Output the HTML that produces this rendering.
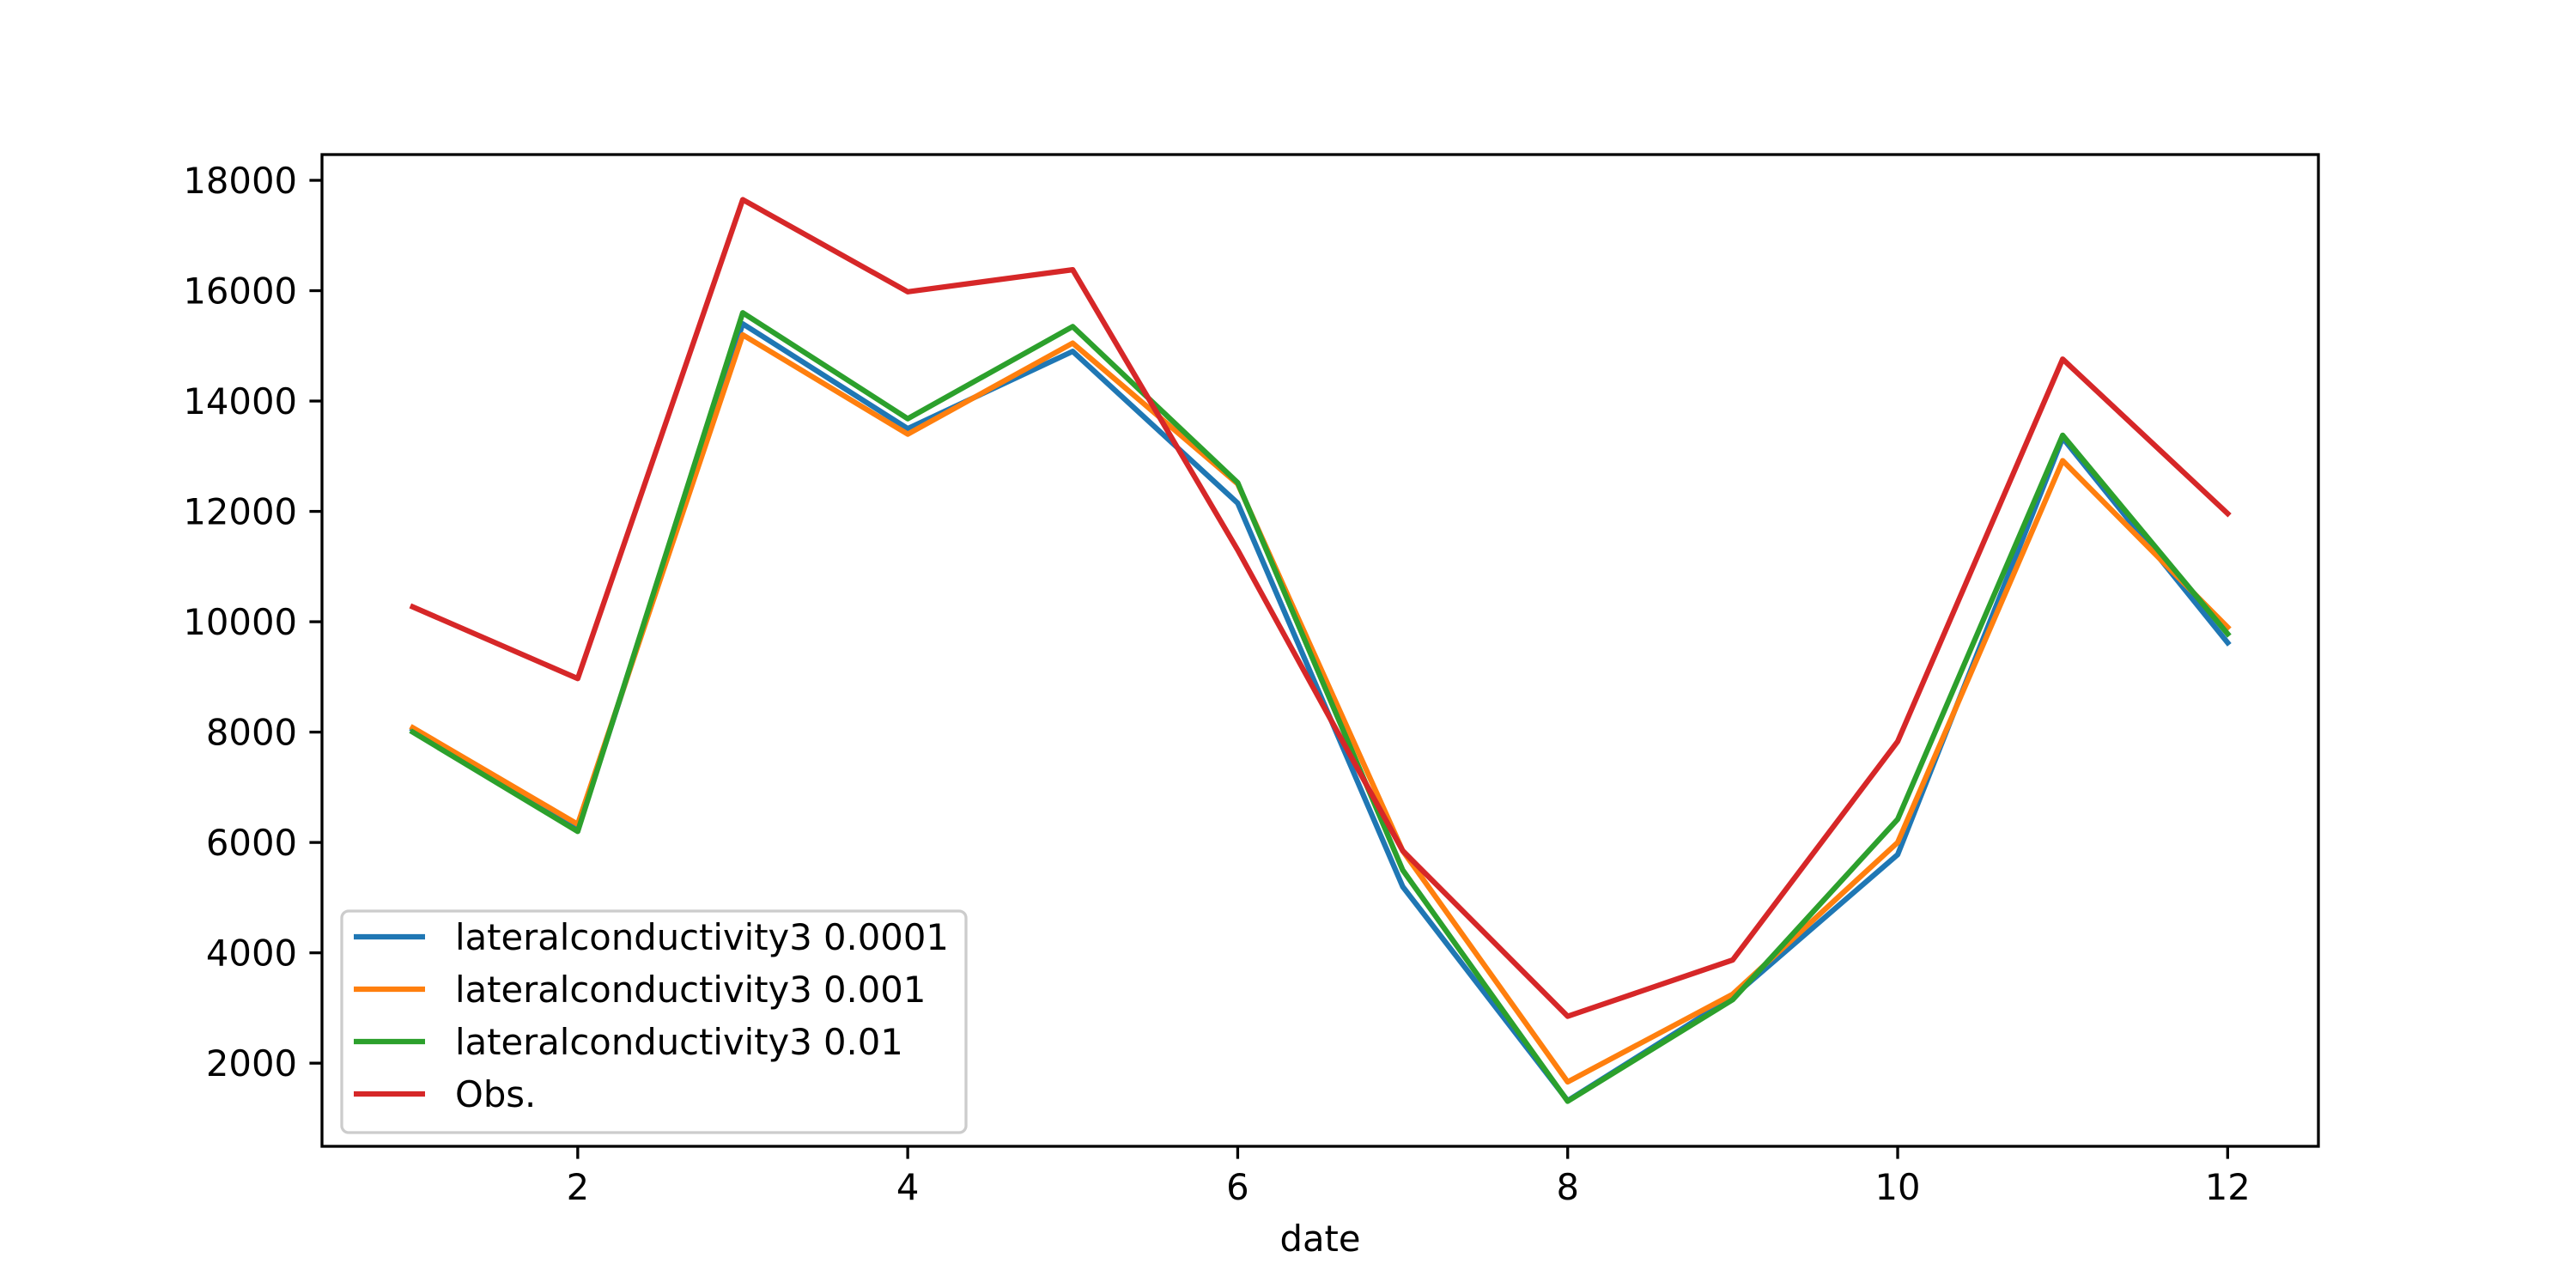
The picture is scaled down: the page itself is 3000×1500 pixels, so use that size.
<!DOCTYPE html>
<html><head><meta charset="utf-8"><style>body{margin:0;background:#fff}svg{display:block}text{font-family:"DejaVu Sans","Liberation Sans",sans-serif;fill:#000}</style></head>
<body>
<svg id="chart" width="3000" height="1500" xmlns="http://www.w3.org/2000/svg">
<rect width="3000" height="1500" fill="#fff"/>
<g id="plot"></g>
</svg>
<script>
const months = [1,2,3,4,5,6,7,8,9,10,11,12];
const seriesNames = ["lateralconductivity3 0.0001","lateralconductivity3 0.001","lateralconductivity3 0.01","Obs."];
const seriesColors = ["#1f77b4","#ff7f0e","#2ca02c","#d62728"];
const blueVals = [8050,6250,15400,13500,14900,12150,5200,1320,3200,5780,13330,9620];
const orangeVals = [8080,6330,15200,13400,15050,12500,5850,1660,3250,6000,12920,9900];
const greenVals = [8000,6200,15600,13680,15350,12520,5500,1310,3150,6420,13380,9780];
const obsVals = [10270,8970,17650,15980,16380,11300,5850,2850,3870,7830,14760,11960];
const xTicks = [2,4,6,8,10,12];
const yTicks = [2000,4000,6000,8000,10000,12000,14000,16000,18000];

const NS="http://www.w3.org/2000/svg";
const L=375,R=2700,T=180,B=1335;
const all=[...blueVals,...orangeVals,...greenVals,...obsVals];
const mn=Math.min(...all),mx=Math.max(...all),pad=(mx-mn)*0.05;
const y0=mn-pad,y1=mx+pad;
const x0=months[0]-(months[months.length-1]-months[0])*0.05,x1=months[months.length-1]+(months[months.length-1]-months[0])*0.05;
const sx=v=>L+(v-x0)/(x1-x0)*(R-L);
const sy=v=>B-(v-y0)/(y1-y0)*(B-T);
const g=document.getElementById('plot');
function mk(tag,attrs,parent){const e=document.createElementNS(NS,tag);for(const k in attrs)e.setAttribute(k,attrs[k]);(parent||g).appendChild(e);return e;}

const clip=mk('clipPath',{id:'c'});mk('rect',{x:L,y:T,width:R-L,height:B-T},clip);
const vals=[blueVals,orangeVals,greenVals,obsVals];
const lineNames=['line-blue-0001','line-orange-001','line-green-01','line-obs'];
vals.forEach((arr,i)=>{
  const p=mk('polyline',{points:arr.map((v,j)=>sx(months[j])+','+sy(v)).join(' '),fill:'none',stroke:seriesColors[i],'stroke-width':6.25,'stroke-linejoin':'round','stroke-linecap':'square','clip-path':'url(#c)'});
  
  
});

xTicks.forEach(t=>{
  const x=sx(t);
  const tk=mk('line',{x1:x,x2:x,y1:B,y2:B+14.6,stroke:'#000','stroke-width':3.3});
  
  
  const tx=mk('text',{x:x,y:B+62,'text-anchor':'middle','font-size':41.7});tx.textContent=t;
  
  
});
yTicks.forEach(t=>{
  const y=sy(t);
  const tk=mk('line',{x1:L-14.6,x2:L,y1:y,y2:y,stroke:'#000','stroke-width':3.3});
  
  
  const tx=mk('text',{x:L-29,y:y+15,'text-anchor':'end','font-size':41.7});tx.textContent=t;
  
  
});
const fr=mk('rect',{x:L,y:T,width:R-L,height:B-T,fill:'none',stroke:'#000','stroke-width':3.3});


const xl=mk('text',{x:(L+R)/2,y:1457,'text-anchor':'middle','font-size':41.7});xl.textContent='date';



const lg=mk('g',{});


mk('rect',{x:398,y:1061,width:727,height:258,rx:8,fill:'#fff','fill-opacity':0.8,stroke:'#ccc','stroke-width':3.3},lg);
seriesNames.forEach((n,i)=>{
  const y=1091+i*61;
  const e=mk('g',{},lg);
  
  
  mk('line',{x1:412,x2:495,y1:y,y2:y,stroke:seriesColors[i],'stroke-width':6.25},e);
  const t=mk('text',{x:530,y:y+15,'font-size':41.7},e);t.textContent=n;
});
</script>
</body></html>
